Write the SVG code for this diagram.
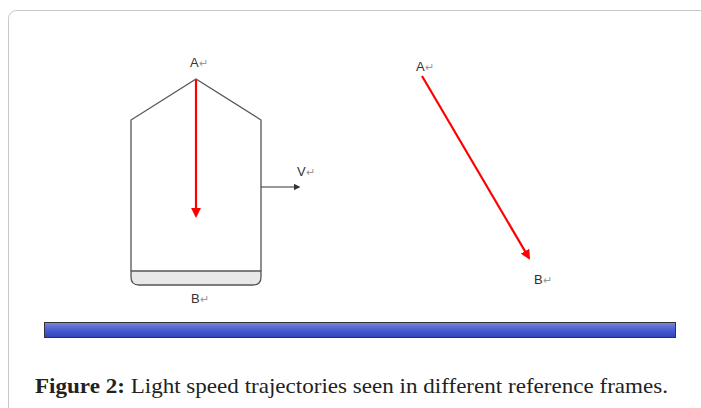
<svg xmlns="http://www.w3.org/2000/svg" width="701" height="408" viewBox="0 0 701 408">
<defs>
<style>
.lbl{font-family:"Liberation Sans",Arial,sans-serif;font-size:13px;fill:#333}
.ret{fill:#999;font-size:11px}
.outline{fill:none;stroke:#555;stroke-width:1.3}
.red{stroke:#ff0000;stroke-width:2.2;fill:none}
</style>
<marker id="redHead" viewBox="0 0 10 10" refX="8" refY="5" markerWidth="4.5" markerHeight="4.5" orient="auto" markerUnits="strokeWidth">
<path d="M0,0 L10,5 L0,10 z" fill="#ff0000"/>
</marker>
<marker id="blackHead" viewBox="0 0 10 10" refX="8" refY="5" markerWidth="6" markerHeight="6" orient="auto" markerUnits="strokeWidth">
<path d="M0,0 L10,5 L0,10 z" fill="#333"/>
</marker>
<linearGradient id="barGrad" x1="0" y1="0" x2="0" y2="1">
<stop offset="0" stop-color="#7b89dc"/>
<stop offset="0.5" stop-color="#4a5cd0"/>
<stop offset="1" stop-color="#2e42bd"/>
</linearGradient>
</defs>
<rect x="0" y="0" width="701" height="408" fill="#fff"/>
<rect id="frame" x="8.5" y="10.5" width="720" height="420" rx="8" fill="#fff" stroke="#c8c8c8" stroke-width="1"/>

<g id="vehicle">
<path d="M131,271 L131,120 L196,79 L261,120 L261,271" class="outline"/>
<path d="M131,271 L261,271 L261,277 Q261,285 253,285 L139,285 Q131,285 131,277 Z" fill="#e8e8e8" stroke="#555" stroke-width="1.3"/>
</g>

<g id="labelA1"><text x="190" y="67" class="lbl">A<tspan class="ret">↵</tspan></text></g>
<g id="labelB1"><text x="191" y="303" class="lbl">B<tspan class="ret">↵</tspan></text></g>
<g id="labelV"><text x="297" y="176" class="lbl">V<tspan class="ret">↵</tspan></text></g>
<g id="labelA2"><text x="416" y="71" class="lbl">A<tspan class="ret">↵</tspan></text></g>
<g id="labelB2"><text x="534" y="284" class="lbl">B<tspan class="ret">↵</tspan></text></g>

<g id="connectors">
<line x1="196" y1="80" x2="196" y2="216" class="red" marker-end="url(#redHead)"/>
<line x1="422" y1="76" x2="529" y2="258" class="red" marker-end="url(#redHead)"/>
<line x1="261" y1="187" x2="299" y2="187" stroke="#333" stroke-width="1.1" marker-end="url(#blackHead)"/>
</g>

<g id="ground">
<rect x="44.5" y="322.5" width="631" height="15" fill="url(#barGrad)" stroke="#333" stroke-width="1"/>
</g>

<g id="caption">
<text x="35" y="393" font-family="'Liberation Serif','Times New Roman',serif" font-size="21" fill="#222" textLength="633" lengthAdjust="spacingAndGlyphs"><tspan font-weight="bold">Figure 2:</tspan> Light speed trajectories seen in different reference frames.</text>
</g>
</svg>
